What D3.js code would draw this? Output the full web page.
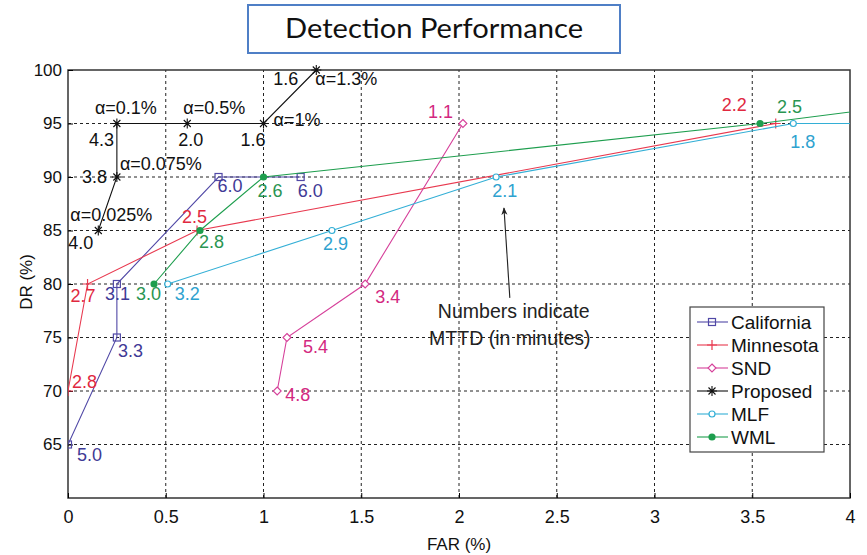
<!DOCTYPE html>
<html>
<head>
<meta charset="utf-8">
<script src="https://cdn.jsdelivr.net/npm/d3@7"></script>
<style>
  body { margin: 0; background: #fff; }
  svg { display: block; }
</style>
</head>
<body>
<div id="chart"></div>
<script>
// ---------------- data ----------------
var xTicks = [0, 0.5, 1, 1.5, 2, 2.5, 3, 3.5, 4];
var yTicks = [65, 70, 75, 80, 85, 90, 95, 100];

var californiaFar  = [0, 0.25, 0.25, 0.77, 1.19];
var californiaDr   = [65, 75, 80, 90, 90];
var californiaMttd = ["5.0", "3.3", "3.1", "6.0", "6.0"];

var minnesotaFar  = [0, 0.1, 0.66, 3.62];
var minnesotaDr   = [70, 80, 85, 95];
var minnesotaMttd = ["2.8", "2.7", "2.5", "2.2"];

var sndFar  = [1.07, 1.12, 1.52, 2.02];
var sndDr   = [70, 75, 80, 95];
var sndMttd = ["4.8", "5.4", "3.4", "1.1"];

var proposedFar   = [0.155, 0.25, 0.25, 0.61, 1.0, 1.27];
var proposedDr    = [85, 90, 95, 95, 95, 100];
var proposedMttd  = ["4.0", "3.8", "4.3", "2.0", "1.6", "1.6"];
var proposedAlpha = ["α=0.025%", "α=0.075%", "α=0.1%", "α=0.5%", "α=1%", "α=1.3%"];

// last point of MLF / WML lies past the right edge (line runs off the axes)
var mlfFar  = [0.51, 1.35, 2.19, 3.71, 4.4];
var mlfDr   = [80, 85, 90, 95, 95];
var mlfMttd = ["3.2", "2.9", "2.1", "1.8", ""];

var wmlFar  = [0.44, 0.675, 1.0, 3.54, 4.4];
var wmlDr   = [80, 85, 90, 95, 97];
var wmlMttd = ["3.0", "2.8", "2.6", "2.5", ""];

// ---------------- layout ----------------
var W = 867, H = 555;
var svg = d3.select("#chart").append("svg")
    .attr("width", W)
    .attr("height", H)
    .style("background", "#fff");

var x = d3.scaleLinear().domain([0, 4]).range([68, 850]);
var y = d3.scaleLinear().domain([60, 100]).range([498, 70]);

var tickFont = "'Liberation Sans', Arial, sans-serif";

// title box
svg.append("rect")
    .attr("x", 248).attr("y", 5)
    .attr("width", 372).attr("height", 48)
    .attr("fill", "#fff")
    .attr("stroke", "#4f7fc6")
    .attr("stroke-width", 2);
svg.append("text")
    .attr("x", 285).attr("y", 38)
    .attr("font-family", "Lato, 'Open Sans', sans-serif")
    .attr("font-size", "26px")
    .attr("textLength", 298)
    .attr("lengthAdjust", "spacingAndGlyphs")
    .attr("fill", "#111")
    .text("Detection Performance");

// clip for plotted lines
svg.append("clipPath").attr("id", "plotclip")
  .append("rect")
    .attr("x", x(0)).attr("y", y(100) - 6)
    .attr("width", x(4) - x(0)).attr("height", y(60) - y(100) + 6);

// grid
var grid = svg.append("g");
xTicks.slice(1, -1).forEach(function(t) {
    grid.append("line")
        .attr("x1", x(t)).attr("x2", x(t))
        .attr("y1", y(60)).attr("y2", y(100))
        .attr("stroke", "#222").attr("stroke-width", 1)
        .attr("stroke-dasharray", "3,3");
});
yTicks.slice(0, -1).forEach(function(t) {
    grid.append("line")
        .attr("x1", x(0)).attr("x2", x(4))
        .attr("y1", y(t)).attr("y2", y(t))
        .attr("stroke", "#222").attr("stroke-width", 1)
        .attr("stroke-dasharray", "3,3");
});

// frame
svg.append("rect")
    .attr("x", x(0)).attr("y", y(100))
    .attr("width", x(4) - x(0)).attr("height", y(60) - y(100))
    .attr("fill", "none")
    .attr("stroke", "#333")
    .attr("stroke-width", 1.5);

// axes (ticks inward, Matlab style)
var xAxis = d3.axisBottom(x).tickValues(xTicks).tickSize(-5).tickPadding(12)
    .tickFormat(d3.format("~g"));
var gx = svg.append("g")
    .attr("transform", "translate(0," + y(60) + ")")
    .call(xAxis);
gx.select(".domain").remove();
gx.selectAll("text")
    .attr("font-family", tickFont)
    .attr("font-size", "18px")
    .attr("fill", "#111");

var yAxis = d3.axisLeft(y).tickValues(yTicks).tickSize(-5).tickPadding(6);
var gy = svg.append("g")
    .attr("transform", "translate(" + x(0) + ",0)")
    .call(yAxis);
gy.select(".domain").remove();
gy.selectAll("text")
    .attr("font-family", tickFont)
    .attr("font-size", "17px")
    .attr("fill", "#111");

// axis labels
svg.append("text")
    .attr("x", 459).attr("y", 550)
    .attr("text-anchor", "middle")
    .attr("font-family", tickFont)
    .attr("font-size", "17px")
    .attr("fill", "#111")
    .text("FAR (%)");
svg.append("text")
    .attr("transform", "translate(32,282) rotate(-90)")
    .attr("text-anchor", "middle")
    .attr("font-family", tickFont)
    .attr("font-size", "17px")
    .attr("fill", "#111")
    .text("DR (%)");

// ---------------- markers ----------------
function drawMarker(g, kind, cx, cy, color) {
    if (kind == "square") {
        g.append("rect")
            .attr("x", cx - 3.5).attr("y", cy - 3.5)
            .attr("width", 7).attr("height", 7)
            .attr("fill", "none").attr("stroke", color).attr("stroke-width", 1.2);
    } else if (kind == "plus") {
        g.append("path")
            .attr("d", "M" + (cx - 5) + "," + cy + "H" + (cx + 5) + "M" + cx + "," + (cy - 5) + "V" + (cy + 5))
            .attr("stroke", color).attr("stroke-width", 1.2);
    } else if (kind == "diamond") {
        g.append("path")
            .attr("d", "M" + cx + "," + (cy - 4) + "L" + (cx + 4) + "," + cy + "L" + cx + "," + (cy + 4) + "L" + (cx - 4) + "," + cy + "Z")
            .attr("fill", "#fff").attr("stroke", color).attr("stroke-width", 1.1);
    } else if (kind == "star") {
        var r = 5, d = 3.5;
        g.append("path")
            .attr("d", "M" + (cx - r) + "," + cy + "H" + (cx + r) +
                       "M" + cx + "," + (cy - r) + "V" + (cy + r) +
                       "M" + (cx - d) + "," + (cy - d) + "L" + (cx + d) + "," + (cy + d) +
                       "M" + (cx - d) + "," + (cy + d) + "L" + (cx + d) + "," + (cy - d))
            .attr("stroke", color).attr("stroke-width", 1.1);
    } else if (kind == "ocircle") {
        g.append("circle")
            .attr("cx", cx).attr("cy", cy).attr("r", 3)
            .attr("fill", "#fff").attr("stroke", color).attr("stroke-width", 1.2);
    } else if (kind == "dot") {
        g.append("circle")
            .attr("cx", cx).attr("cy", cy).attr("r", 3.6)
            .attr("fill", color);
    }
}

// ---------------- series ----------------
var series = [
    { name: "California", far: californiaFar, dr: californiaDr, mttd: californiaMttd,
      color: "#5048a6", text: "#3f3a96", marker: "square",
      dx: [9, 1, -12, -1, -3], dy: [16, 19, 16, 15, 20] },
    { name: "Minnesota", far: minnesotaFar, dr: minnesotaDr, mttd: minnesotaMttd,
      color: "#e8394f", text: "#e0283f", marker: "plus",
      dx: [4, -17, -15, -54], dy: [-3, 18, -8, -13] },
    { name: "SND", far: sndFar, dr: sndDr, mttd: sndMttd,
      color: "#d6409a", text: "#d3287f", marker: "diamond",
      dx: [8, 16, 10, -35], dy: [10, 15, 19, -6] },
    { name: "Proposed", far: proposedFar, dr: proposedDr, mttd: proposedMttd,
      color: "#111", text: "#111", marker: "star",
      dx: [-30, -35, -28, -9, -23, -43], dy: [18, 6, 22, 22, 22, 15] },
    { name: "MLF", far: mlfFar, dr: mlfDr, mttd: mlfMttd,
      color: "#33afd6", text: "#2ea2cf", marker: "ocircle",
      dx: [7, -9, -4, -3, 0], dy: [16, 19, 20, 24, 0] },
    { name: "WML", far: wmlFar, dr: wmlDr, mttd: wmlMttd,
      color: "#1e9e4e", text: "#2a9552", marker: "dot",
      dx: [-18, -1, -6, 17, 0], dy: [16, 17, 20, -11, 0] }
];
var alphaDx = [-28, 3, -22, -4, 10, -1];
var alphaDy = [-10, -7, -10, -10, 2, 15];

var line = d3.line()
    .x(function(d) { return x(d[0]); })
    .y(function(d) { return y(d[1]); });

var plot = svg.append("g").attr("clip-path", "url(#plotclip)");
var labels = svg.append("g")
    .attr("font-family", tickFont)
    .attr("font-size", "18px");

series.forEach(function(s) {
    var pts = s.far.map(function(f, i) { return [f, s.dr[i]]; });
    plot.append("path")
        .attr("d", line(pts))
        .attr("fill", "none")
        .attr("stroke", s.color)
        .attr("stroke-width", 1.1);
    pts.forEach(function(p, i) {
        drawMarker(plot, s.marker, x(p[0]), y(p[1]), s.color);
        if (s.mttd[i] != "") {
            labels.append("text")
                .attr("x", x(p[0]) + s.dx[i])
                .attr("y", y(p[1]) + s.dy[i])
                .attr("fill", s.text)
                .text(s.mttd[i]);
        }
    });
});

// alpha annotations of the proposed method
proposedAlpha.forEach(function(a, i) {
    labels.append("text")
        .attr("x", x(proposedFar[i]) + alphaDx[i])
        .attr("y", y(proposedDr[i]) + alphaDy[i])
        .attr("fill", "#111")
        .text(a);
});

// note with arrow
var noteG = svg.append("g")
    .attr("font-family", tickFont)
    .attr("font-size", "19.5px")
    .attr("fill", "#222")
    .attr("text-anchor", "middle");
noteG.append("text").attr("x", x(2.28)).attr("y", y(76.8)).text("Numbers indicate");
noteG.append("text").attr("x", x(2.26)).attr("y", y(74.3)).text("MTTD (in minutes)");

svg.append("defs").append("marker")
    .attr("id", "arrowhead")
    .attr("viewBox", "0 0 10 10")
    .attr("refX", 9).attr("refY", 5)
    .attr("markerWidth", 7).attr("markerHeight", 7)
    .attr("orient", "auto")
  .append("path")
    .attr("d", "M0,1 L10,5 L0,9 L3,5 Z")
    .attr("fill", "#222");
svg.append("line")
    .attr("x1", x(2.26)).attr("y1", y(78.7))
    .attr("x2", x(2.23)).attr("y2", y(87.1))
    .attr("stroke", "#222").attr("stroke-width", 1.1)
    .attr("marker-end", "url(#arrowhead)");

// ---------------- legend ----------------
var lg = svg.append("g");
lg.append("rect")
    .attr("x", 690).attr("y", 307)
    .attr("width", 134).attr("height", 145)
    .attr("fill", "#fff")
    .attr("stroke", "#444").attr("stroke-width", 1.2);
series.forEach(function(s, i) {
    var ly = 322 + i * 23;
    lg.append("line")
        .attr("x1", 697).attr("x2", 728)
        .attr("y1", ly).attr("y2", ly)
        .attr("stroke", s.color).attr("stroke-width", 1.1);
    drawMarker(lg, s.marker, 712, ly, s.color);
    lg.append("text")
        .attr("x", 731).attr("y", ly + 7)
        .attr("font-family", tickFont)
        .attr("font-size", "19px")
        .attr("fill", "#111")
        .text(s.name);
});
</script>
</body>
</html>
